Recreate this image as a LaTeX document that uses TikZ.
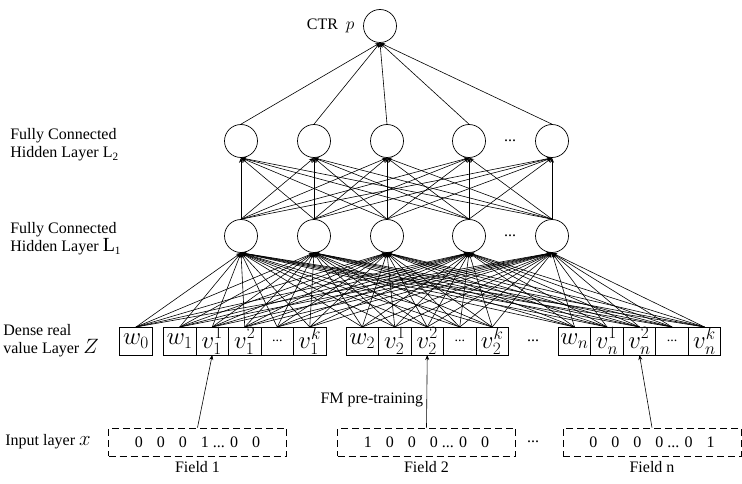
\documentclass[tikz,border=0pt]{standalone}
\usepackage{fontspec}
\setmainfont{Liberation Serif}
\usetikzlibrary{positioning,arrows.meta}
\tikzset{
  neuron/.style={circle, draw, minimum size=33pt, inner sep=0pt},
  cell/.style={draw, minimum width=32.5pt, minimum height=28pt, inner sep=0pt, outer sep=0pt, font=\fontsize{23}{23}\selectfont},
  inbox/.style={draw, dash pattern=on 7pt off 4pt, minimum width=178pt, minimum height=28pt, inner sep=0pt},
  conn/.style={-{Stealth[length=5pt,width=4pt]}, line width=0.6pt},
  lbl/.style={anchor=west, align=left, inner sep=1pt, font=\fontsize{16}{18}\selectfont}
}
\newcommand{\zg}{\hspace{14pt}}
\newcommand{\lblmath}[1]{{\fontsize{20}{18}\selectfont$#1$}}

\begin{document}
\begin{tikzpicture}[x=1pt,y=-1pt,font=\fontsize{16}{18}\selectfont,line width=0.7pt]
\useasboundingbox (0,0) rectangle (742,484);
% output and hidden layers
\node[neuron] (out) at (380,26) {};
\node[left=5pt of out] (ctr) {CTR\ \ $p$};
\foreach \i/\x in {1/241,2/314,3/387,4/469,5/552} {
  \node[neuron] (h2-\i) at (\x,141) {};
  \node[neuron] (h1-\i) at (\x,236) {};
}
\node (dots2) at (510,141) {...};
\node (dots1) at (510,236) {...};
\node[lbl] (l2lab) at (9,145) {Fully Connected\\Hidden Layer L\textsubscript{2}};
\node[lbl] (l1lab) at (9,239) {Fully Connected\\Hidden Layer \lblmath{\mathrm{L}}\textsubscript{1}};

% dense layer
\node[lbl] (zlab) at (2,341) {Dense real\\value Layer \lblmath{Z}};
\node[cell] (w0) at (136,341) {$w_0$};
\foreach \g/\x in {1/179.75,2/362.25,n/574.5} {
  \node[cell] (w\g) at (\x,341) {$w_\g$};
  \node[cell,right=0pt of w\g] (a\g) {$v_\g^1$};
  \node[cell,right=0pt of a\g] (b\g) {$v_\g^2$};
  \node[cell,right=0pt of b\g] (d\g) {\fontsize{14}{14}\selectfont...};
  \node[cell,right=0pt of d\g] (k\g) {$v_\g^k$};
}
\node (ddots) at (533,341) {...};

% connections
\foreach \c in {w0,w1,a1,b1,d1,k1,w2,a2,b2,d2,k2,wn,an,bn,dn,kn}
  \foreach \j in {1,...,5}
    \draw[conn] (\c.north) -- (h1-\j.south);
\foreach \i in {1,...,5} {
  \foreach \j in {1,...,5}
    \draw[conn] (h1-\i.north) -- (h2-\j.south);
  \draw[conn] (h2-\i.north) -- (out.south);
}

% input layer
\node[lbl] (xlab) at (4,442) {Input layer \lblmath{x}};
\node[inbox] (in1) at (197.5,442) {0\zg0\zg0\zg1 ... 0\zg0};
\node[inbox] (in2) at (426.5,442) {1\zg0\zg0\zg0 ... 0\zg0};
\node[inbox] (inn) at (652,442) {0\zg0\zg0\zg0 ... 0\zg1};
\node (idots) at (533,442) {...};
\node[below=1pt of in1] (f1) {Field 1};
\node[below=1pt of in2] (f2) {Field 2};
\node[below=1pt of inn] (fn) {Field n};
\draw[conn] (in1.north) -- (a1.south);
\draw[conn] (in2.north) -- node[left,pos=0.38] (fm) {FM pre-training} (b2.south);
\draw[conn] (inn.north) -- (bn.south);
\end{tikzpicture}
\end{document}
